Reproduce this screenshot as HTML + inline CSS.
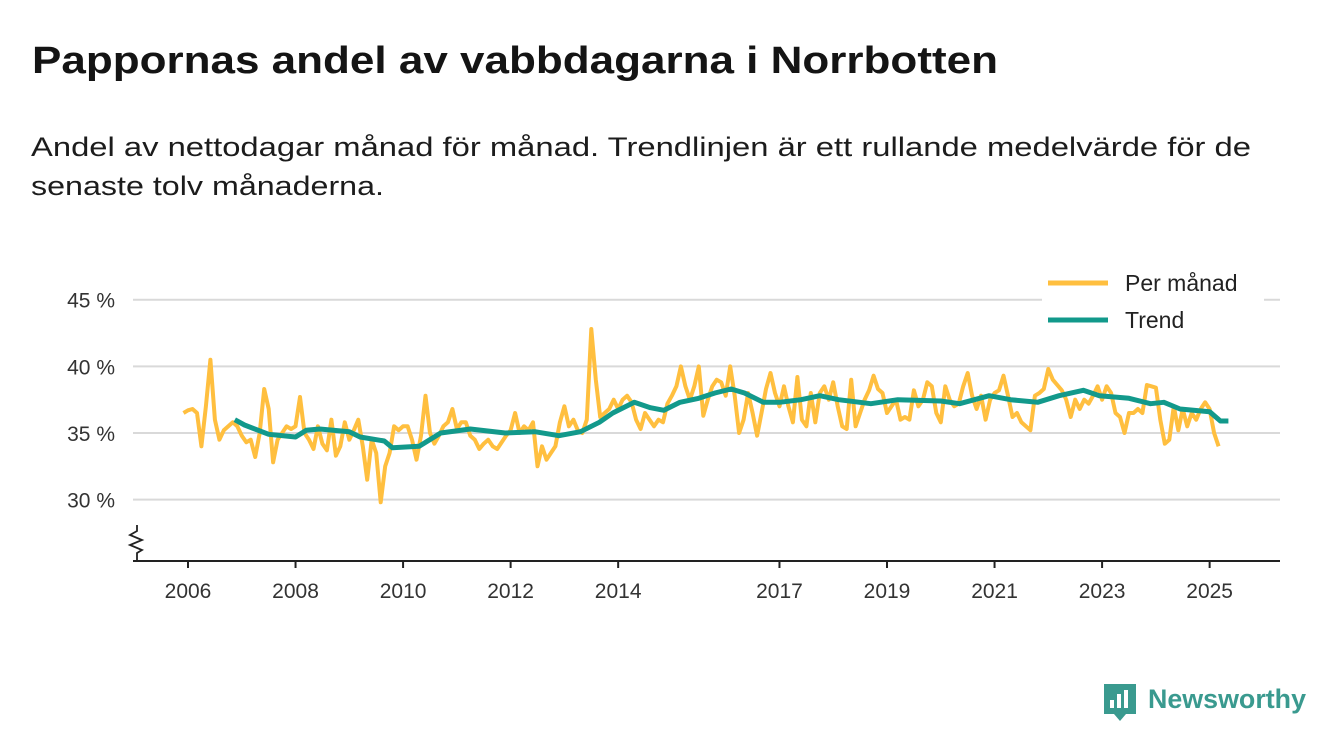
<!DOCTYPE html>
<html><head><meta charset="utf-8">
<style>
html,body{margin:0;padding:0;background:#fff;}
svg{display:block;font-family:"Liberation Sans","DejaVu Sans",sans-serif;}
</style></head>
<body>
<svg id="chart" width="1340" height="753" viewBox="0 0 1340 753" xmlns="http://www.w3.org/2000/svg">
<text x="32" y="73" font-size="38" font-weight="bold" fill="#141414" textLength="966" lengthAdjust="spacingAndGlyphs">Pappornas andel av vabbdagarna i Norrbotten</text>
<text x="31" y="156" font-size="27" fill="#1c1c1c" textLength="1220" lengthAdjust="spacingAndGlyphs">Andel av nettodagar månad för månad. Trendlinjen är ett rullande medelvärde för de</text>
<text x="31" y="195" font-size="27" fill="#1c1c1c" textLength="353" lengthAdjust="spacingAndGlyphs">senaste tolv månaderna.</text>
<g id="grid"></g>
<g id="yaxis"></g>
<g id="xaxis"></g>
<g id="series"></g>
<g id="legend">
  <rect x="1042" y="262" width="222" height="78" fill="#fff"/>
  <line x1="1048" y1="283" x2="1108" y2="283" stroke="#ffbf3f" stroke-width="5"/>
  <text x="1125" y="291" font-size="23" fill="#222">Per månad</text>
  <line x1="1048" y1="320" x2="1108" y2="320" stroke="#12998b" stroke-width="5"/>
  <text x="1125" y="328" font-size="23" fill="#222">Trend</text>
</g>
<g>
  <path d="M1104 684 h32 v30 h-10 l-6 7 l-6 -7 h-10 z" fill="#3a9a8f"/>
  <rect x="1110" y="700" width="4" height="8" fill="#fff"/>
  <rect x="1117" y="694" width="4" height="14" fill="#fff"/>
  <rect x="1124" y="690" width="4" height="18" fill="#fff"/>
  <text x="1148" y="708" font-size="27" font-weight="bold" fill="#3a9a8f" textLength="158" lengthAdjust="spacingAndGlyphs">Newsworthy</text>
</g>
</svg>
<script>
// Monthly values, Dec 2005 .. Apr 2025
const monthlyStart = 2005 + 11/12;
const monthlyValues = [
36.5, 36.7, 36.8, 36.5, 34.0, 37.0, 40.5, 36.0, 34.5, 35.2, 35.5, 35.8,
35.5, 34.8, 34.3, 34.5, 33.2, 35.0, 38.3, 36.8, 32.8, 34.5, 35.0, 35.5,
35.3, 35.5, 37.7, 35.0, 34.5, 33.8, 35.5, 34.2, 33.7, 36.0, 33.3, 34.0,
35.8, 34.5, 35.2, 36.0, 34.0, 31.5, 34.5, 33.5, 29.8, 32.5, 33.5, 35.5,
35.2, 35.5, 35.5, 34.5, 33.0, 34.8, 37.8, 35.0, 34.2, 34.8, 35.5, 35.8,
36.8, 35.3, 35.8, 35.8, 34.8, 34.5, 33.8, 34.2, 34.5, 34.0, 33.8, 34.3,
34.8, 35.2, 36.5, 35.0, 35.5, 35.2, 35.8, 32.5, 34.0, 33.0, 33.5, 34.0,
35.8, 37.0, 35.5, 36.0, 35.2, 35.0, 36.0, 42.8, 39.0, 36.2, 36.5, 36.8,
37.5, 36.8, 37.5, 37.8, 37.3, 36.0, 35.3, 36.5, 36.0, 35.5, 36.0, 35.8,
37.2, 37.8, 38.5, 40.0, 38.5, 37.5, 38.5, 40.0, 36.3, 37.5, 38.5, 39.0,
38.8, 37.8, 40.0, 37.8, 35.0, 36.0, 38.0, 36.5, 34.8, 36.5, 38.3, 39.5,
38.0, 37.0, 38.5, 37.0, 35.8, 39.2, 36.0, 35.5, 38.0, 35.8, 38.0, 38.5,
37.5, 38.8, 37.0, 35.5, 35.3, 39.0, 35.5, 36.5, 37.5, 38.2, 39.3, 38.3,
38.0, 36.5, 37.0, 37.5, 36.0, 36.2, 36.0, 38.2, 37.0, 37.5, 38.8, 38.5,
36.5, 35.8, 38.5, 37.5, 37.0, 37.2, 38.5, 39.5, 37.8, 36.8, 37.8, 36.0,
37.5, 38.0, 38.2, 39.3, 37.8, 36.2, 36.5, 35.8, 35.5, 35.2, 37.8, 38.0,
38.3, 39.8, 39.0, 38.6, 38.2, 37.5, 36.2, 37.5, 36.8, 37.5, 37.2, 37.8,
38.5, 37.5, 38.5, 38.0, 36.5, 36.2, 35.0, 36.5, 36.5, 36.8, 36.5, 38.6,
38.5, 38.4, 36.0, 34.2, 34.5, 37.0, 35.2, 36.8, 35.5, 36.5, 36.0, 36.8,
37.3, 36.8, 35.0, 34.0
];
// Trend (12-month rolling mean) readings
const trendDates = [2006.87,2007.05,2007.5,2008.0,2008.2,2008.45,2009.0,2009.2,2009.65,2009.8,2010.3,2010.7,2011.25,2011.9,2012.45,2012.9,2013.3,2013.65,2013.9,2014.3,2014.6,2014.85,2015.15,2015.5,2015.8,2016.1,2016.35,2016.7,2017.0,2017.4,2017.75,2018.1,2018.7,2019.2,2020.0,2020.35,2020.9,2021.3,2021.8,2022.2,2022.65,2022.95,2023.5,2023.9,2024.15,2024.45,2025.0,2025.2,2025.35];
const trendValues = [36.0,35.6,34.9,34.7,35.2,35.3,35.1,34.7,34.4,33.9,34.0,35.0,35.3,35.0,35.1,34.8,35.1,35.8,36.5,37.3,36.9,36.7,37.3,37.6,38.0,38.3,38.0,37.3,37.3,37.5,37.8,37.5,37.2,37.5,37.4,37.2,37.8,37.5,37.3,37.8,38.2,37.8,37.6,37.2,37.3,36.8,36.6,35.9,35.9];
const yTicks = [30, 35, 40, 45];
const yTickLabels = ["30 %", "35 %", "40 %", "45 %"];
const xTicks = [2006, 2008, 2010, 2012, 2014, 2017, 2019, 2021, 2023, 2025];

const NS = "http://www.w3.org/2000/svg";
const X0 = 133, X1 = 1280;
function xScale(year){ return 188 + (year - 2006) * 53.77; }
function yScale(v){ return 433 - (v - 35) * 13.33; }
function mk(tag, attrs, parent){
  const e = document.createElementNS(NS, tag);
  for (const k in attrs) e.setAttribute(k, attrs[k]);
  parent.appendChild(e); return e;
}
const grid = document.getElementById('grid'), yax = document.getElementById('yaxis'), xax = document.getElementById('xaxis'), ser = document.getElementById('series');
yTicks.forEach((t,i)=>{
  const l = mk('line',{x1:X0,x2:X1,y1:yScale(t),y2:yScale(t),stroke:'#d9d9d9','stroke-width':2},grid);
  
  
  const tx = mk('text',{x:115,y:yScale(t)+8,'font-size':21,fill:'#333','text-anchor':'end'},yax);
  tx.textContent = yTickLabels[i];
  
  
});
const zz = mk('path',{d:'M137 525 l0 6 l-7 4 l12 5 l-12 5 l12 5 l-5 3 l0 8',fill:'none',stroke:'#222','stroke-width':1.8},yax);


const base = mk('line',{x1:X0,x2:X1,y1:561,y2:561,stroke:'#222','stroke-width':2},xax);


xTicks.forEach(t=>{
  const x = xScale(t);
  const tk = mk('line',{x1:x,x2:x,y1:561,y2:568,stroke:'#222','stroke-width':2},xax);
  
  
  const tx = mk('text',{x:x,y:598,'font-size':21,fill:'#333','text-anchor':'middle'},xax);
  tx.textContent = t;
  
  
});
const mPts = monthlyValues.map((v,i)=>xScale(monthlyStart + i/12).toFixed(1)+','+yScale(v).toFixed(1)).join(' ');
const mLine = mk('polyline',{points:mPts,fill:'none',stroke:'#ffbf3f','stroke-width':4,'stroke-linejoin':'round'},ser);


const tPts = trendValues.map((v,i)=>xScale(trendDates[i]).toFixed(1)+','+yScale(v).toFixed(1)).join(' ');
const tLine = mk('polyline',{points:tPts,fill:'none',stroke:'#12998b','stroke-width':5,'stroke-linejoin':'round'},ser);


// keep legend on top
document.getElementById('chart').appendChild(document.getElementById('legend'));
</script>
</body></html>
